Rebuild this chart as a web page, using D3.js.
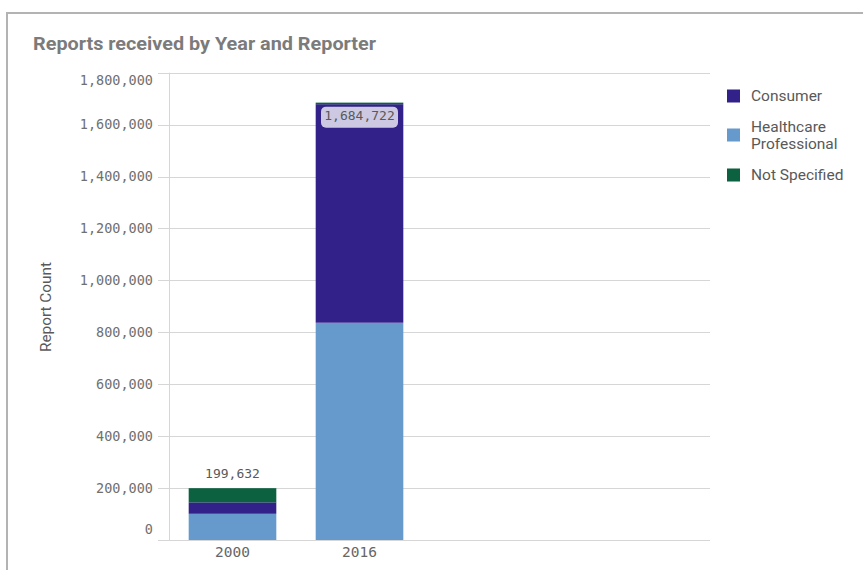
<!DOCTYPE html>
<html>
<head>
<meta charset="utf-8">
<script src="https://cdn.jsdelivr.net/npm/d3@7"></script>
<style>
  body { margin: 0; background: #fff; }
  svg { display: block; }
</style>
</head>
<body>
<div id="chart"></div>
<script>
// data
const years = ["2000", "2016"];
const reporters = ["Healthcare Professional", "Consumer", "Not Specified"];
const healthcare = [101000, 837000];
const consumer = [44000, 841722];
const notSpecified = [54632, 6000];
const totals = [199632, 1684722];
const yTicks = [0, 200000, 400000, 600000, 800000, 1000000, 1200000, 1400000, 1600000, 1800000];
const legendItems = ["Consumer", "Healthcare Professional", "Not Specified"];

const colors = {
  "Consumer": "#322188",
  "Healthcare Professional": "#6699cc",
  "Not Specified": "#0b6140"
};

const width = 863, height = 570;
const svg = d3.select("#chart").append("svg")
  .attr("width", width)
  .attr("height", height);

// card border
svg.append("path")
  .attr("d", "M7,600 V13 H870")
  .attr("fill", "none")
  .attr("stroke", "#b3b3b3")
  .attr("stroke-width", 2);

svg.append("text")
  .attr("x", 33).attr("y", 50)
  .attr("font-family", "Roboto, sans-serif")
  .attr("font-weight", "bold")
  .attr("font-size", 18)
  .attr("fill", "#7b7b7b")
  .attr("textLength", 343)
  .attr("lengthAdjust", "spacingAndGlyphs")
  .text("Reports received by Year and Reporter");

const plotLeft = 169, plotRight = 710, plotTop = 72.7, plotBottom = 540;

const y = d3.scaleLinear().domain([0, 1800000]).range([plotBottom, plotTop]);
const x = d3.scaleBand().domain(years)
  .range([plotLeft, plotLeft + 254])
  .paddingInner(0.31).paddingOuter(0.155);

const fmt = d3.format(",");

// grid lines
svg.append("g")
  .selectAll("line")
  .data(yTicks)
  .enter().append("line")
  .attr("x1", 158).attr("x2", plotRight)
  .attr("y1", d => Math.round(y(d)) + 0.5)
  .attr("y2", d => Math.round(y(d)) + 0.5)
  .attr("stroke", "#d6d6d6")
  .attr("stroke-width", 1);

// y axis line
svg.append("line")
  .attr("x1", plotLeft + 0.5).attr("x2", plotLeft + 0.5)
  .attr("y1", plotTop).attr("y2", plotBottom)
  .attr("stroke", "#d6d6d6");

// y tick labels (0 sits up a bit, like the original)
svg.append("g")
  .selectAll("text")
  .data(yTicks)
  .enter().append("text")
  .attr("x", 153)
  .attr("y", d => d === 0 ? y(d) - 11 : (d === 1800000 ? y(d) + 8 : y(d)))
  .attr("dy", "0.35em")
  .attr("text-anchor", "end")
  .attr("font-family", "'DejaVu Sans Mono', monospace")
  .attr("font-size", 13.5)
  .attr("fill", "#707070")
  .text(d => fmt(d));

svg.append("text")
  .attr("transform", "translate(51,307) rotate(-90)")
  .attr("text-anchor", "middle")
  .attr("font-family", "Roboto, sans-serif")
  .attr("font-size", 14.5)
  .attr("fill", "#595959")
  .attr("textLength", 90)
  .attr("lengthAdjust", "spacingAndGlyphs")
  .text("Report Count");

// stacked bars
const rows = years.map((yr, i) => ({
  year: yr,
  "Healthcare Professional": healthcare[i],
  "Consumer": consumer[i],
  "Not Specified": notSpecified[i]
}));
const series = d3.stack().keys(reporters)(rows);

svg.append("g")
  .selectAll("g")
  .data(series)
  .enter().append("g")
  .attr("fill", d => colors[d.key])
  .selectAll("rect")
  .data(d => d)
  .enter().append("rect")
  .attr("x", d => x(d.data.year))
  .attr("width", x.bandwidth())
  .attr("y", d => y(d[1]))
  .attr("height", d => y(d[0]) - y(d[1]));

// x tick labels
svg.append("g")
  .selectAll("text")
  .data(years)
  .enter().append("text")
  .attr("x", d => x(d) + x.bandwidth() / 2)
  .attr("y", 552)
  .attr("dy", "0.35em")
  .attr("text-anchor", "middle")
  .attr("font-family", "'DejaVu Sans Mono', monospace")
  .attr("font-size", 14.5)
  .attr("fill", "#666")
  .text(d => d);

// totals: outside above the short bar, boxed inside the tall one
years.forEach((yr, i) => {
  const cx = x(yr) + x.bandwidth() / 2;
  const top = y(totals[i]);
  if (i === 0) {
    svg.append("text")
      .attr("x", cx).attr("y", top - 15)
      .attr("dy", "0.35em")
      .attr("text-anchor", "middle")
      .attr("font-family", "'DejaVu Sans Mono', monospace")
      .attr("font-size", 13)
      .attr("fill", "#595959")
      .text(fmt(totals[i]));
  } else {
    svg.append("rect")
      .attr("x", cx - 38.5).attr("y", top + 4)
      .attr("width", 77).attr("height", 21)
      .attr("rx", 5)
      .attr("fill", "#cdc9e3");
    svg.append("text")
      .attr("x", cx).attr("y", top + 13)
      .attr("dy", "0.35em")
      .attr("text-anchor", "middle")
      .attr("font-family", "'DejaVu Sans Mono', monospace")
      .attr("font-size", 13)
      .attr("fill", "#595959")
      .text(fmt(totals[i]));
  }
});

// legend
const legendY = [96, 135, 175];
const legend = svg.append("g")
  .selectAll("g")
  .data(legendItems)
  .enter().append("g")
  .attr("transform", (d, i) => `translate(727,${legendY[i]})`);

legend.append("rect")
  .attr("x", 0).attr("y", -6.5)
  .attr("width", 13).attr("height", 13)
  .attr("fill", d => colors[d]);

legend.append("text")
  .attr("x", 24)
  .attr("font-family", "Roboto, sans-serif")
  .attr("font-size", 15.5)
  .attr("fill", "#595959")
  .each(function(d) {
    const words = d === "Healthcare Professional" ? ["Healthcare", "Professional"] : [d];
    const t = d3.select(this);
    words.forEach((w, j) => {
      t.append("tspan")
        .attr("x", 24)
        .attr("y", (j - (words.length - 1) / 2) * 17)
        .attr("dy", "0.35em")
        .text(w);
    });
  });
</script>
</body>
</html>
